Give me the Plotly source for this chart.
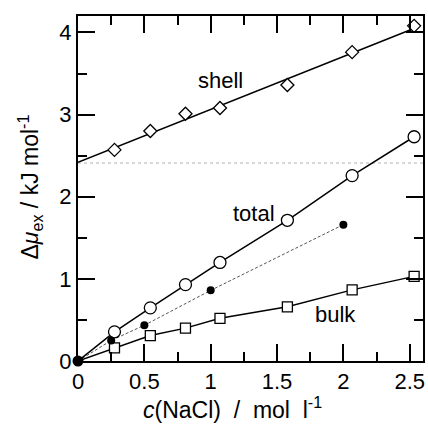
import plotly.graph_objects as go

# ---- data ----
conc = [0.275, 0.545, 0.81, 1.07, 1.578, 2.066, 2.533]
shell = [2.57, 2.80, 3.01, 3.08, 3.36, 3.76, 4.08]
total = [0.355, 0.647, 0.93, 1.20, 1.713, 2.257, 2.73]
bulk = [0.16, 0.31, 0.40, 0.52, 0.66, 0.866, 1.03]

dots_x = [0.0, 0.25, 0.5, 1.0, 2.0]
dots_y = [0.0, 0.25, 0.435, 0.86, 1.66]

shell_fit_x = [0.0, 2.535]
shell_fit_y = [2.42, 4.05]
ref_level = 2.41

origin = [0.0]

labels = ["shell", "total", "bulk"]
label_x = [1.075, 1.325, 1.943]
label_y = [3.42, 1.79, 0.566]

x_range = [0, 2.6]
y_range = [0, 4.2]

FONT = "Liberation Sans, Arial, Helvetica, sans-serif"

fig = go.Figure()

fig.add_trace(go.Scatter(x=x_range, y=[ref_level, ref_level], mode="lines",
                         line=dict(color="#b0b0b0", width=1, dash="dot"),
                         hoverinfo="skip", showlegend=False))
fig.add_trace(go.Scatter(x=shell_fit_x, y=shell_fit_y, mode="lines",
                         line=dict(color="black", width=1.5), showlegend=False))
fig.add_trace(go.Scatter(x=conc, y=shell, mode="markers",
                         marker=dict(symbol="diamond", size=10, color="white",
                                     line=dict(color="black", width=1.3)),
                         showlegend=False))
fig.add_trace(go.Scatter(x=dots_x, y=dots_y, mode="lines",
                         line=dict(color="#555555", width=1, dash="3px,2px"),
                         showlegend=False))
fig.add_trace(go.Scatter(x=origin + conc, y=origin + total, mode="lines",
                         line=dict(color="black", width=1.5), showlegend=False))
fig.add_trace(go.Scatter(x=conc, y=total, mode="markers",
                         marker=dict(symbol="circle", size=12, color="white",
                                     line=dict(color="black", width=1.3)),
                         showlegend=False))
fig.add_trace(go.Scatter(x=origin + conc, y=origin + bulk, mode="lines",
                         line=dict(color="black", width=1.5), showlegend=False))
fig.add_trace(go.Scatter(x=conc, y=bulk, mode="markers",
                         marker=dict(symbol="square", size=10, color="white",
                                     line=dict(color="black", width=1.3)),
                         showlegend=False))
fig.add_trace(go.Scatter(x=dots_x[1:], y=dots_y[1:], mode="markers",
                         marker=dict(symbol="circle", size=8, color="black"),
                         showlegend=False))
fig.add_trace(go.Scatter(x=origin, y=origin, mode="markers", cliponaxis=False,
                         marker=dict(symbol="circle", size=11, color="black"),
                         showlegend=False))

for t, lx, ly in zip(labels, label_x, label_y):
    fig.add_annotation(x=lx, y=ly, text=t, showarrow=False,
                       font=dict(family=FONT, size=22, color="black"))

fig.add_annotation(xref="paper", yref="paper", x=0.449, y=-0.137,
                   text="<i>c</i>(NaCl)&nbsp; /&nbsp; mol&nbsp; l<sup>-1</sup>",
                   showarrow=False, xanchor="center", yanchor="middle",
                   font=dict(family=FONT, size=23, color="black"))
fig.add_annotation(xref="paper", yref="paper", x=-0.139, y=0.503,
                   text="Δ<i>μ</i><sub>ex</sub> / kJ mol<sup>-1</sup>",
                   textangle=-90, showarrow=False, xanchor="center", yanchor="middle",
                   font=dict(family=FONT, size=23, color="black"))

tick_common = dict(ticks="inside", ticklen=17, tickwidth=1.5, tickcolor="black",
                   showgrid=False, zeroline=False)

fig.update_layout(
    width=428, height=425,
    margin=dict(l=78, r=5, t=16, b=64, autoexpand=False),
    plot_bgcolor="white", paper_bgcolor="white",
    font=dict(family=FONT, size=22, color="black"),
    xaxis=dict(range=x_range, dtick=0.5, tick0=0, showline=True, linecolor="black",
               linewidth=2, mirror="allticks",
               tickfont=dict(family=FONT, size=22, color="black"),
               minor=dict(ticks="inside", ticklen=9, tickwidth=1.5, tickcolor="black",
                          dtick=0.25, showgrid=False),
               **tick_common),
    yaxis=dict(range=y_range, dtick=1, tick0=0, showline=True, linecolor="black",
               linewidth=2, mirror="allticks",
               tickfont=dict(family=FONT, size=22, color="black"),
               minor=dict(ticks="inside", ticklen=9, tickwidth=1.5, tickcolor="black",
                          dtick=0.5, showgrid=False),
               **tick_common),
)

fig.write_html("out.html")
